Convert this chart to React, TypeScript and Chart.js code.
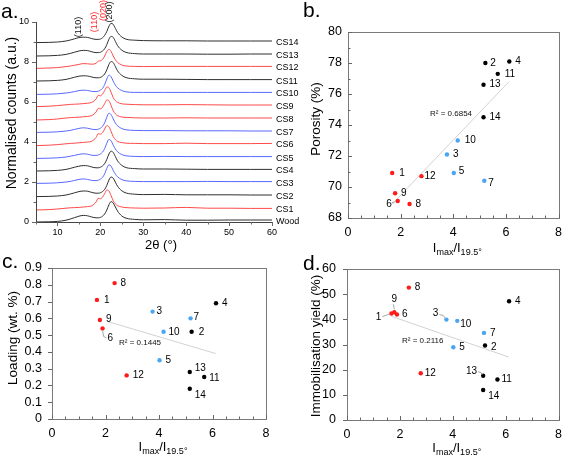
import React, { useEffect, useRef } from "react";
import { Chart, registerables } from "chart.js";
Chart.register(...registerables);

const FONT = "'Liberation Sans', Arial, Helvetica, sans-serif";
const CW = 569;
const CH = 457;

// ---------- Panel a: XRD patterns ----------
const twoTheta = [5, 8, 10, 12, 13, 14, 15, 16, 17, 18, 19, 19.5, 20, 20.5, 21, 21.5, 22, 22.5, 23, 23.5, 24, 25, 26, 28, 30, 35, 40, 45, 50, 55, 60];
const curveNames = ["Wood", "CS1", "CS2", "CS3", "CS4", "CS5", "CS6", "CS7", "CS8", "CS9", "CS10", "CS11", "CS12", "CS13", "CS14"];
const curveGroups = ["k", "r", "k", "b", "k", "b", "r", "b", "r", "r", "b", "k", "r", "k", "k"];
const curveOffsets = [0.0, 0.6, 1.27, 1.93, 2.55, 3.18, 3.82, 4.48, 5.1, 5.77, 6.38, 7.05, 7.68, 8.3, 8.97];

const woodCounts = [0.00, 0.01, 0.03, 0.09, 0.15, 0.22, 0.29, 0.33, 0.31, 0.25, 0.21, 0.21, 0.23, 0.29, 0.40, 0.60, 0.86, 1.02, 0.95, 0.75, 0.55, 0.30, 0.19, 0.13, 0.11, 0.12, 0.09, 0.09, 0.10, 0.10, 0.10];
const cs1Counts = [0.00, 0.02, 0.05, 0.09, 0.11, 0.12, 0.13, 0.15, 0.17, 0.21, 0.40, 0.58, 0.56, 0.64, 0.82, 1.00, 0.95, 0.72, 0.46, 0.31, 0.22, 0.15, 0.12, 0.10, 0.09, 0.10, 0.13, 0.09, 0.09, 0.08, 0.08];
const cs2Counts = [0.00, 0.01, 0.03, 0.08, 0.13, 0.19, 0.25, 0.28, 0.27, 0.21, 0.17, 0.17, 0.19, 0.25, 0.36, 0.56, 0.83, 0.98, 0.92, 0.72, 0.52, 0.29, 0.18, 0.12, 0.10, 0.11, 0.09, 0.09, 0.09, 0.08, 0.08];
const cs3Counts = [0.00, 0.01, 0.03, 0.07, 0.10, 0.15, 0.20, 0.22, 0.20, 0.15, 0.14, 0.16, 0.21, 0.30, 0.48, 0.75, 0.93, 0.86, 0.65, 0.46, 0.33, 0.19, 0.13, 0.10, 0.09, 0.09, 0.09, 0.10, 0.09, 0.09, 0.09];
const cs4Counts = [0.00, 0.01, 0.03, 0.08, 0.13, 0.19, 0.24, 0.27, 0.26, 0.20, 0.16, 0.16, 0.19, 0.25, 0.37, 0.58, 0.85, 0.99, 0.93, 0.72, 0.51, 0.28, 0.17, 0.12, 0.10, 0.10, 0.09, 0.08, 0.08, 0.08, 0.08];
const cs5Counts = [0.00, 0.01, 0.03, 0.07, 0.11, 0.15, 0.20, 0.23, 0.21, 0.16, 0.15, 0.17, 0.22, 0.31, 0.49, 0.76, 0.95, 0.88, 0.66, 0.47, 0.33, 0.19, 0.13, 0.10, 0.09, 0.10, 0.09, 0.09, 0.09, 0.09, 0.09];
const cs6Counts = [0.00, 0.02, 0.05, 0.09, 0.11, 0.12, 0.14, 0.16, 0.18, 0.22, 0.41, 0.60, 0.57, 0.65, 0.83, 1.00, 0.94, 0.71, 0.45, 0.30, 0.21, 0.15, 0.12, 0.11, 0.10, 0.10, 0.12, 0.10, 0.10, 0.10, 0.11];
const cs7Counts = [0.00, 0.01, 0.03, 0.07, 0.10, 0.15, 0.20, 0.23, 0.21, 0.16, 0.14, 0.16, 0.21, 0.30, 0.48, 0.76, 0.96, 0.89, 0.67, 0.47, 0.33, 0.19, 0.13, 0.10, 0.09, 0.09, 0.08, 0.08, 0.08, 0.07, 0.07];
const cs8Counts = [0.00, 0.02, 0.05, 0.10, 0.12, 0.13, 0.14, 0.16, 0.18, 0.22, 0.40, 0.58, 0.56, 0.64, 0.82, 1.00, 0.96, 0.73, 0.46, 0.31, 0.22, 0.15, 0.13, 0.11, 0.10, 0.10, 0.11, 0.10, 0.10, 0.10, 0.10];
const cs9Counts = [0.00, 0.02, 0.05, 0.09, 0.11, 0.12, 0.13, 0.15, 0.17, 0.21, 0.38, 0.56, 0.54, 0.62, 0.80, 0.98, 0.94, 0.72, 0.45, 0.30, 0.21, 0.14, 0.12, 0.10, 0.09, 0.09, 0.10, 0.09, 0.08, 0.08, 0.08];
const cs10Counts = [0.00, 0.01, 0.03, 0.07, 0.10, 0.14, 0.19, 0.21, 0.20, 0.15, 0.14, 0.16, 0.21, 0.30, 0.49, 0.77, 0.96, 0.88, 0.66, 0.46, 0.33, 0.19, 0.13, 0.10, 0.10, 0.10, 0.10, 0.10, 0.10, 0.10, 0.10];
const cs11Counts = [0.00, 0.01, 0.03, 0.08, 0.13, 0.19, 0.24, 0.26, 0.25, 0.20, 0.16, 0.16, 0.18, 0.24, 0.35, 0.56, 0.83, 0.97, 0.92, 0.72, 0.51, 0.28, 0.17, 0.11, 0.09, 0.09, 0.08, 0.07, 0.07, 0.07, 0.07];
const cs12Counts = [0.00, 0.02, 0.04, 0.09, 0.12, 0.16, 0.20, 0.24, 0.23, 0.21, 0.26, 0.36, 0.38, 0.45, 0.62, 0.85, 0.95, 0.85, 0.62, 0.43, 0.30, 0.17, 0.12, 0.10, 0.09, 0.10, 0.10, 0.10, 0.10, 0.10, 0.10];
const cs13Counts = [0.00, 0.01, 0.03, 0.08, 0.13, 0.19, 0.25, 0.28, 0.27, 0.21, 0.17, 0.17, 0.19, 0.25, 0.36, 0.57, 0.84, 0.98, 0.93, 0.73, 0.52, 0.29, 0.18, 0.12, 0.10, 0.10, 0.10, 0.09, 0.09, 0.10, 0.10];
const cs14Counts = [0.00, 0.01, 0.03, 0.08, 0.13, 0.19, 0.25, 0.27, 0.26, 0.20, 0.16, 0.16, 0.18, 0.24, 0.36, 0.56, 0.82, 0.96, 0.91, 0.71, 0.51, 0.28, 0.17, 0.12, 0.10, 0.09, 0.09, 0.08, 0.08, 0.08, 0.08];
const xrdCounts = [woodCounts, cs1Counts, cs2Counts, cs3Counts, cs4Counts, cs5Counts, cs6Counts, cs7Counts, cs8Counts, cs9Counts, cs10Counts, cs11Counts, cs12Counts, cs13Counts, cs14Counts];

const hklLabels = ["(110)", "(110)", "(020)", "(200)"];
const hklGroups = ["k", "r", "r", "k"];

// ---------- Panels b-d: scatter ----------
const sampleIds = ["1", "2", "3", "4", "5", "6", "7", "8", "9", "10", "11", "12", "13", "14"];
const sampleGroups = ["r", "k", "b", "k", "b", "r", "b", "r", "r", "b", "k", "r", "k", "k"];
const intensityRatio = [1.68, 5.22, 3.76, 6.13, 4.02, 1.89, 5.18, 2.34, 1.79, 4.17, 5.69, 2.79, 5.15, 5.15];
const porosity = [70.9, 78.0, 72.1, 78.1, 70.9, 69.1, 70.4, 68.9, 69.6, 73.0, 77.3, 70.7, 76.6, 74.5];
const loading = [0.71, 0.52, 0.64, 0.69, 0.35, 0.54, 0.60, 0.81, 0.59, 0.52, 0.25, 0.26, 0.28, 0.18];
const immobYield = [42.3, 29.6, 39.9, 47.2, 28.9, 41.9, 34.6, 52.6, 42.8, 39.4, 16.1, 18.6, 17.6, 11.9];

const porosityTrendX = [1.68, 6.12];
const porosityTrendY = [68.9, 76.8];
const loadingTrendX = [2.1, 6.12];
const loadingTrendY = [0.58, 0.39];
const yieldTrendX = [1.68, 6.12];
const yieldTrendY = [41.2, 25.0];

const porosityR2 = "R² = 0.6854";
const loadingR2 = "R² = 0.1445";
const yieldR2 = "R² = 0.2116";

// ---------- styles ----------
const curveColor: Record<string, string> = { k: "#2f2f2f", r: "#ff4a4a", b: "#5868ff" };
const pointColor: Record<string, string> = { k: "#000000", r: "#ff1a1a", b: "#4aa6f2" };
const AXIS = "#666666";

type Lab = { dx: number; dy: number; align?: CanvasTextAlign; leader?: number[][] };
const L = (dx: number, dy = 0, align: CanvasTextAlign = "left", leader?: number[][]): Lab => ({ dx, dy, align, leader });

const labelsB: Lab[] = [
  L(7), L(5), L(6), L(6), L(5, -2), L(-6, 3, "right", [[-6, 2], [-2, 0.5]]), L(4, 2),
  L(6), L(6), L(7), L(7), L(3), L(6), L(6),
];
const labelsC: Lab[] = [
  L(7), L(7), L(4), L(6), L(6), L(5, 10, "left", [[0, 2], [1, 8], [4, 9.5]]), L(3, -1),
  L(6), L(6, -1), L(5), L(5, 1), L(6), L(5, -4), L(5, 6),
];
const labelsD: Lab[] = [
  L(-10, 3.5, "right", [[-9, 3], [-2, 0.5]]), L(6, 2), L(-8, -6, "right", [[-7, -5], [-3, -4], [-1, -1]]), L(6), L(6), L(5), L(6),
  L(6), L(0, -13, "center", [[-1, -8], [0, -3]]), L(3, 3), L(4), L(4), L(-6, -4, "right", [[-5, -4], [-2, -3], [-1, -1]]), L(5, 6),
];

type Area = { l: number; t: number; r: number; b: number };

function layoutFor(area: Area) {
  return {
    padding: { left: area.l - 30, top: area.t, right: CW - area.r, bottom: CH - area.b - 20 },
  };
}

function line(ctx: CanvasRenderingContext2D, x1: number, y1: number, x2: number, y2: number) {
  ctx.beginPath();
  ctx.moveTo(x1, y1);
  ctx.lineTo(x2, y2);
  ctx.stroke();
}

function drawTicks(chart: any, axis: "x" | "y", from: number, to: number, step: number, isMajor: (v: number) => boolean, inward: boolean) {
  const ctx: CanvasRenderingContext2D = chart.ctx;
  const sc = chart.scales[axis];
  const { left, bottom } = chart.chartArea;
  ctx.save();
  ctx.strokeStyle = AXIS;
  ctx.lineWidth = 1;
  const n = Math.round((to - from) / step);
  for (let i = 0; i <= n; i++) {
    const v = from + i * step;
    const len = isMajor(v) ? 4 : 2.5;
    const p = Math.round(sc.getPixelForValue(v)) + 0.5;
    if (axis === "x") line(ctx, p, bottom, p, inward ? bottom - len : bottom + len);
    else line(ctx, left, p, inward ? left + len : left - len, p);
  }
  ctx.restore();
}

function text(ctx: CanvasRenderingContext2D, s: string, x: number, y: number, font: string, color = "#000", align: CanvasTextAlign = "left", baseline: CanvasTextBaseline = "middle") {
  ctx.font = font;
  ctx.fillStyle = color;
  ctx.textAlign = align;
  ctx.textBaseline = baseline;
  ctx.fillText(s, x, y);
}

function vtext(ctx: CanvasRenderingContext2D, s: string, cx: number, cy: number, font: string, color = "#000") {
  ctx.save();
  ctx.translate(cx, cy);
  ctx.rotate(-Math.PI / 2);
  text(ctx, s, 0, 0, font, color, "center", "middle");
  ctx.restore();
}

function ratioTitle(ctx: CanvasRenderingContext2D, cx: number, baseY: number) {
  const big = `13px ${FONT}`;
  const small = `9px ${FONT}`;
  const parts: [string, string, number][] = [["I", big, 0], ["max", small, 3], ["/I", big, 0], ["19.5°", small, 3]];
  let total = 0;
  for (const [s, f] of parts) {
    ctx.font = f;
    total += ctx.measureText(s).width;
  }
  let x = cx - total / 2;
  ctx.fillStyle = "#000";
  ctx.textAlign = "left";
  ctx.textBaseline = "alphabetic";
  for (const [s, f, dy] of parts) {
    ctx.font = f;
    ctx.fillText(s, x, baseY + dy);
    x += ctx.measureText(s).width;
  }
}

// ---------- Panel a config ----------
function makeA(): any {
  const area: Area = { l: 36, t: 22, r: 272, b: 222 };
  const datasets = xrdCounts.map((arr, i) => ({
    label: curveNames[i],
    data: twoTheta.map((x, j) => ({ x, y: arr[j] + curveOffsets[i] })),
    borderColor: curveColor[curveGroups[i]],
    borderWidth: 1,
    pointRadius: 0,
    cubicInterpolationMode: "monotone",
    fill: false,
  }));
  const decor = {
    id: "decorA",
    afterDraw(chart: any) {
      const ctx: CanvasRenderingContext2D = chart.ctx;
      const { left, right, top, bottom } = chart.chartArea;
      const xs = chart.scales.x;
      const ys = chart.scales.y;
      ctx.save();
      ctx.strokeStyle = "#444";
      ctx.lineWidth = 1;
      line(ctx, left + 0.5, top, left + 0.5, bottom + 0.5);
      line(ctx, left, bottom + 0.5, right, bottom + 0.5);
      ctx.restore();
      drawTicks(chart, "x", 5, 60, 5, (v) => v % 10 === 0, false);
      drawTicks(chart, "y", 0, 10, 1, (v) => v % 2 === 0, false);
      // curve labels
      xrdCounts.forEach((arr, i) => {
        const y = ys.getPixelForValue(arr[arr.length - 1] + curveOffsets[i]) + 1.5;
        text(ctx, curveNames[i], right + 4, y, `9px ${FONT}`, "#000");
      });
      // hkl labels
      const hklPos = [[79, 27], [95, 22], [104, 10.5], [109.5, 12]];
      hklLabels.forEach((s, i) => vtext(ctx, s, hklPos[i][0], hklPos[i][1], `9px ${FONT}`, hklGroups[i] === "r" ? "#ff2a2a" : "#111"));
      vtext(ctx, "Normalised counts (a.u.)", 12.5, 113, `14px ${FONT}`);
      text(ctx, "2θ (°)", (xs.left + xs.right) / 2 + 7, 245, `13px ${FONT}`, "#000", "center");
      text(ctx, "a.", 1, 18, `21px ${FONT}`, "#000", "left", "alphabetic");
    },
  };
  return {
    type: "line",
    data: { datasets },
    options: {
      responsive: false,
      animation: false,
      events: [],
      layout: layoutFor(area),
      plugins: { legend: { display: false }, tooltip: { enabled: false } },
      scales: {
        x: {
          type: "linear",
          min: 5,
          max: 60,
          afterFit: (s: any) => { s.height = 20; },
          grid: { display: false, drawTicks: false },
          border: { display: false },
          ticks: { stepSize: 5, autoSkip: false, maxRotation: 0, padding: 5, color: "#000", font: { family: FONT, size: 9 }, callback: (v: number) => (v % 10 === 0 ? String(v) : "") },
        },
        y: {
          min: 0,
          max: 10,
          afterFit: (s: any) => { s.width = 30; },
          grid: { display: false, drawTicks: false },
          border: { display: false },
          ticks: { stepSize: 1, autoSkip: false, padding: 7, color: "#000", font: { family: FONT, size: 9 }, callback: (v: number) => (v % 2 === 0 ? String(v) : "") },
        },
      },
    },
    plugins: [decor],
  };
}

// ---------- Scatter config ----------
type ScatterSpec = {
  area: Area;
  values: number[];
  yMin: number; yMax: number; yStep: number; yMinor: number;
  yFmt: (v: number) => string;
  trendX: number[]; trendY: number[];
  r2: string; r2Pos: [number, number];
  labels: Lab[];
  letter: string; letterPos: [number, number];
  yTitle: string; yTitlePos: [number, number];
  xTitleY: number;
  yInward: boolean;
  yPad: number;
};

function makeScatter(sp: ScatterSpec): any {
  const pts = intensityRatio.map((x, i) => ({ x, y: sp.values[i] }));
  const trend = sp.trendX.map((x, i) => ({ x, y: sp.trendY[i] }));
  const decor = {
    id: "decorS",
    afterDraw(chart: any) {
      const ctx: CanvasRenderingContext2D = chart.ctx;
      const { left, right, top, bottom } = chart.chartArea;
      const xs = chart.scales.x;
      const ys = chart.scales.y;
      ctx.save();
      ctx.strokeStyle = "#7a7a7a";
      ctx.lineWidth = 1;
      ctx.strokeRect(Math.round(left) + 0.5, Math.round(top) + 0.5, Math.round(right - left), Math.round(bottom - top));
      ctx.restore();
      drawTicks(chart, "x", 0, 8, 0.5, (v) => Math.abs(v % 2) < 1e-9, true);
      drawTicks(chart, "y", sp.yMin, sp.yMax, sp.yMinor, (v) => Math.abs(((v - sp.yMin) / sp.yStep) - Math.round((v - sp.yMin) / sp.yStep)) < 1e-6, sp.yInward);
      // point labels and leaders
      sampleIds.forEach((id, i) => {
        const px = xs.getPixelForValue(intensityRatio[i]);
        const py = ys.getPixelForValue(sp.values[i]);
        const lb = sp.labels[i];
        if (lb.leader) {
          ctx.save();
          ctx.strokeStyle = "#9c9c9c";
          ctx.lineWidth = 0.9;
          ctx.beginPath();
          lb.leader.forEach(([lx, ly], k) => (k === 0 ? ctx.moveTo(px + lx, py + ly) : ctx.lineTo(px + lx, py + ly)));
          ctx.stroke();
          ctx.restore();
        }
        text(ctx, id, px + lb.dx, py + lb.dy, `10px ${FONT}`, "#000", lb.align || "left");
      });
      text(ctx, sp.r2, sp.r2Pos[0], sp.r2Pos[1], `8px ${FONT}`, "#111", "left");
      vtext(ctx, sp.yTitle, sp.yTitlePos[0], sp.yTitlePos[1], `13.5px ${FONT}`);
      ratioTitle(ctx, (left + right) / 2 + 4, sp.xTitleY);
      text(ctx, sp.letter, sp.letterPos[0], sp.letterPos[1], `21px ${FONT}`, "#000", "left", "alphabetic");
    },
  };
  return {
    type: "scatter",
    data: {
      datasets: [
        {
          data: pts,
          pointBackgroundColor: sampleGroups.map((g) => pointColor[g]),
          pointBorderWidth: 0,
          pointRadius: 2.2,
          showLine: false,
          order: 0,
        },
        {
          type: "line",
          data: trend,
          borderColor: "#d2d2d2",
          borderWidth: 1,
          pointRadius: 0,
          showLine: true,
          fill: false,
          order: 1,
        },
      ],
    },
    options: {
      responsive: false,
      animation: false,
      events: [],
      layout: layoutFor(sp.area),
      plugins: { legend: { display: false }, tooltip: { enabled: false } },
      scales: {
        x: {
          type: "linear",
          min: 0,
          max: 8,
          afterFit: (s: any) => { s.height = 20; },
          grid: { display: false, drawTicks: false },
          border: { display: false },
          ticks: { stepSize: 2, autoSkip: false, maxRotation: 0, padding: 7, color: "#000", font: { family: FONT, size: 12.5 } },
        },
        y: {
          min: sp.yMin,
          max: sp.yMax,
          afterFit: (s: any) => { s.width = 30; },
          grid: { display: false, drawTicks: false },
          border: { display: false },
          ticks: { stepSize: sp.yStep, autoSkip: false, padding: sp.yPad, color: "#000", font: { family: FONT, size: 12.5 }, callback: (v: number) => sp.yFmt(v) },
        },
      },
    },
    plugins: [decor],
  };
}

const makeB = () =>
  makeScatter({
    area: { l: 348, t: 32, r: 562, b: 218 },
    values: porosity,
    yMin: 68, yMax: 80, yStep: 2, yMinor: 1,
    yFmt: (v) => String(v),
    trendX: porosityTrendX, trendY: porosityTrendY,
    r2: porosityR2, r2Pos: [430, 114],
    labels: labelsB,
    letter: "b.", letterPos: [303, 17],
    yTitle: "Porosity (%)", yTitlePos: [316, 119],
    xTitleY: 252,
    yInward: true,
    yPad: 6,
  });

const makeC = () =>
  makeScatter({
    area: { l: 52, t: 268, r: 266, b: 419 },
    values: loading,
    yMin: 0, yMax: 0.9, yStep: 0.1, yMinor: 0.1,
    yFmt: (v) => (Math.abs(v) < 1e-9 ? "0" : Number(v).toFixed(1)),
    trendX: loadingTrendX, trendY: loadingTrendY,
    r2: loadingR2, r2Pos: [119, 343],
    labels: labelsC,
    letter: "c.", letterPos: [2, 268],
    yTitle: "Loading (wt. %)", yTitlePos: [13, 338],
    xTitleY: 451,
    yInward: false,
    yPad: 10,
  });

const makeD = () =>
  makeScatter({
    area: { l: 347, t: 269, r: 561, b: 420 },
    values: immobYield,
    yMin: 0, yMax: 60, yStep: 10, yMinor: 10,
    yFmt: (v) => String(v),
    trendX: yieldTrendX, trendY: yieldTrendY,
    r2: yieldR2, r2Pos: [402, 341],
    labels: labelsD,
    letter: "d.", letterPos: [303, 270],
    yTitle: "Immobilisation yield (%)", yTitlePos: [316, 346],
    xTitleY: 452,
    yInward: false,
    yPad: 11,
  });

function Panel({ make }: { make: () => any }) {
  const ref = useRef<HTMLCanvasElement | null>(null);
  useEffect(() => {
    if (!ref.current) return;
    const chart = new Chart(ref.current, make());
    return () => chart.destroy();
  }, [make]);
  return (
    <canvas
      ref={ref}
      width={CW}
      height={CH}
      style={{ position: "absolute", left: 0, top: 0, width: CW, height: CH, pointerEvents: "none" }}
    />
  );
}

export default function App() {
  return (
    <div style={{ position: "fixed", left: 0, top: 0, width: CW, height: CH, background: "#fff", overflow: "hidden" }}>
      <Panel make={makeA} />
      <Panel make={makeB} />
      <Panel make={makeC} />
      <Panel make={makeD} />
    </div>
  );
}
